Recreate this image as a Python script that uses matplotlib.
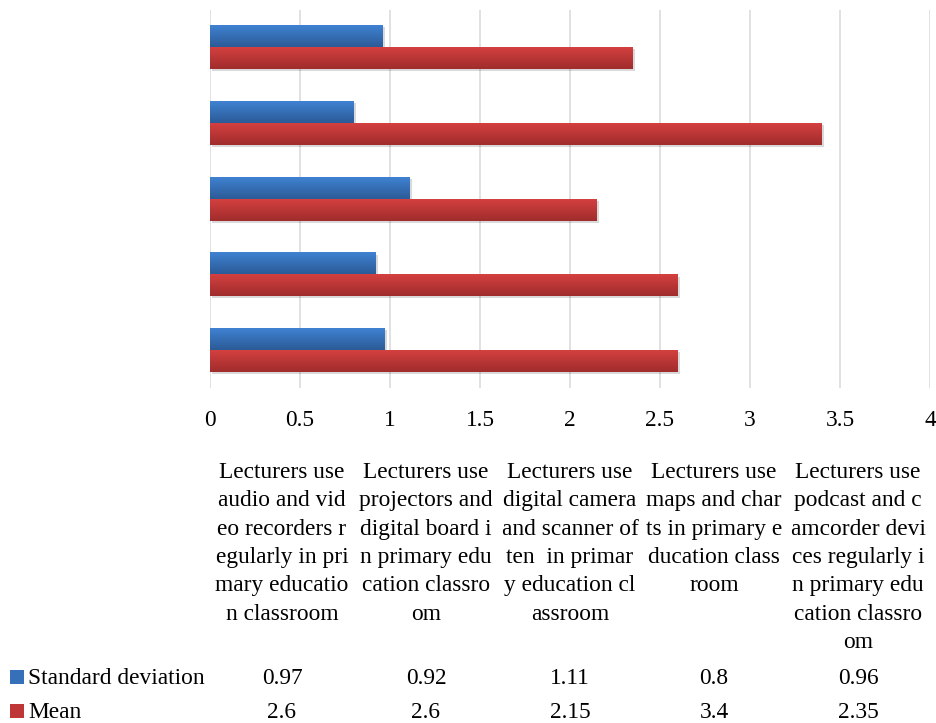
import numpy as np
import matplotlib
matplotlib.use("Agg")
import matplotlib.pyplot as plt
import matplotlib.transforms as mtransforms
from matplotlib.patches import Rectangle
from matplotlib.colors import LinearSegmentedColormap
import matplotlib.patheffects as pe

# ---- data -------------------------------------------------------------
categories = [
    "Lecturers use audio and video recorders regularly in primary education classroom",
    "Lecturers use projectors and digital board in primary education classroom",
    "Lecturers use digital camera and scanner often  in primary education classroom",
    "Lecturers use maps and charts in primary education classroom",
    "Lecturers use podcast and camcorder devices regularly in primary education classroom",
]
# header lines as they wrap in the table columns
category_lines = [
    ["Lecturers use", "audio and vid", "eo recorders r", "egularly in pri",
     "mary educatio", "n classroom"],
    ["Lecturers use", "projectors and", "digital board i", "n primary edu",
     "cation classro", "om"],
    ["Lecturers use", "digital camera", "and scanner of", "ten  in primar",
     "y education cl", "assroom"],
    ["Lecturers use", "maps and char", "ts in primary e", "ducation class",
     "room"],
    ["Lecturers use", "podcast and c", "amcorder devi", "ces regularly i",
     "n primary edu", "cation classro", "om"],
]
series_names = ["Standard deviation", "Mean"]
std_dev = [0.97, 0.92, 1.11, 0.8, 0.96]
mean = [2.6, 2.6, 2.15, 3.4, 2.35]
x_ticks = [0, 0.5, 1, 1.5, 2, 2.5, 3, 3.5, 4]

# ---- style ------------------------------------------------------------
plt.rcParams["font.family"] = ["Liberation Serif", "DejaVu Serif"]
FS = 16.8
W, H = 937, 723
fig = plt.figure(figsize=(W / 100, H / 100), dpi=100)
fig.patch.set_facecolor("white")

ax_left, ax_right = 210 / W, 930 / W
ax_top, ax_bottom = 1 - 9.5 / H, 1 - 388 / H
ax = fig.add_axes([ax_left, ax_bottom, ax_right - ax_left, ax_top - ax_bottom])

blue_top, blue_bot = "#4082d2", "#2b5b97"
red_top, red_bot = "#d44040", "#a02c2c"
blue_mid, red_mid = "#3670b8", "#bf3636"

y = np.arange(len(categories))
bh = 0.29
off = 0.145

bars_sd = ax.barh(y + off, std_dev, height=bh, color=blue_mid, zorder=3,
                  linewidth=0)
bars_mean = ax.barh(y - off, mean, height=bh, color=red_mid, zorder=3,
                    linewidth=0)

shadow = [pe.SimplePatchShadow(offset=(1.5, -1.5), alpha=0.15,
                               shadow_rgbFace="#000000"),
          pe.Normal()]


def shade(bars, c_top, c_bot):
    """Vertical gradient fill clipped to each bar."""
    cmap = LinearSegmentedColormap.from_list("grad", [c_bot, c_top])
    grad = np.linspace(0, 1, 64).reshape(-1, 1)  # bottom row dark, top row light
    for b in bars:
        b.set_path_effects(shadow)
        x0, y0 = b.get_x(), b.get_y()
        w, h = b.get_width(), b.get_height()
        im = ax.imshow(grad, cmap=cmap, aspect="auto", origin="lower",
                       extent=(x0, x0 + w, y0, y0 + h), zorder=4,
                       interpolation="bicubic", vmin=0, vmax=1)
        im.set_clip_path(b)


shade(bars_sd, blue_top, blue_bot)
shade(bars_mean, red_top, red_bot)

ax.set_xlim(0, 4)
ax.set_ylim(-0.5, len(categories) - 0.5)
ax.set_xticks(x_ticks)
ax.set_xticklabels([f"{t:g}" for t in x_ticks], fontsize=FS)
ax.set_yticks([])
ax.tick_params(axis="x", length=0, pad=16)
ax.grid(axis="x", color="#d9d9d9", linewidth=1.1, zorder=0)
for s in ax.spines.values():
    s.set_visible(False)

# ---- data table below the axis ---------------------------------------
col_w = 4 / len(categories)
centers = [col_w * (i + 0.5) for i in range(len(categories))]
tr = mtransforms.blended_transform_factory(ax.transData, fig.transFigure)

first_base = 478
line_step = 28.3
for cx, lines in zip(centers, category_lines):
    for k, line in enumerate(lines):
        ypx = first_base + k * line_step
        ax.text(cx, 1 - ypx / H, line, transform=tr, ha="center",
                va="baseline", fontsize=FS, clip_on=False)

row_base = [684, 718]
row_vals = [std_dev, mean]
row_colors = [blue_mid, red_mid]
for base, name, vals, col in zip(row_base, series_names, row_vals, row_colors):
    fig.add_artist(Rectangle((10 / W, 1 - base / H), 14 / W, 14 / H,
                             transform=fig.transFigure, facecolor=col,
                             edgecolor="none"))
    fig.text(28 / W, 1 - base / H, name, ha="left", va="baseline", fontsize=FS)
    for cx, v in zip(centers, vals):
        ax.text(cx, 1 - base / H, f"{v:g}", transform=tr, ha="center",
                va="baseline", fontsize=FS, clip_on=False)

fig.savefig("out.png", dpi=100, facecolor="white")
